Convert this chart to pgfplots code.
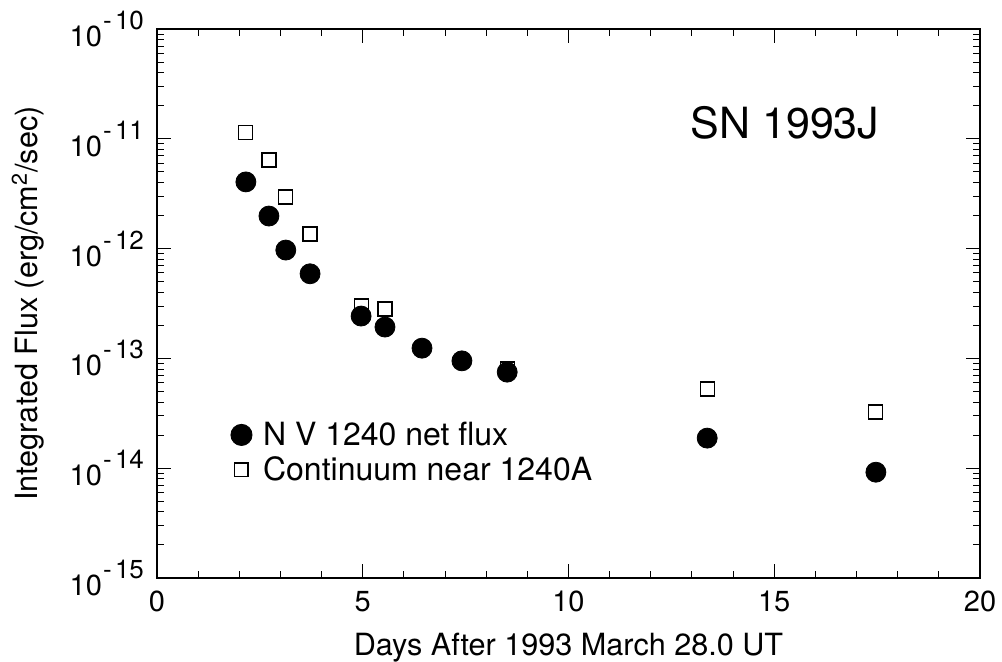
\documentclass[border=0pt]{standalone}
\usepackage{fontspec}
\setmainfont{TeX Gyre Heros}
\usepackage{pgfplots}
\pgfplotsset{compat=1.18}
\newcommand{\pw}[1]{10\kern0.6pt\raisebox{8.5pt}{\fontsize{13}{13}\selectfont -\kern1.6pt#1}}
\begin{document}
\begin{tikzpicture}
\useasboundingbox (-78.5pt,-42pt) rectangle (422.5pt,289pt);
\begin{axis}[
  at={(0,0)}, anchor=south west,
  scale only axis, width=411.5pt, height=274.5pt,
  xmin=0, xmax=20, ymode=log, ymin=1e-15, ymax=1e-10,
  xtick={0,5,10,15,20}, minor x tick num=4,
  ytick={1e-15,1e-14,1e-13,1e-12,1e-11,1e-10},
  yticklabels={\pw{15},\pw{14},\pw{13},\pw{12},\pw{11},\pw{10}},
  /pgf/number format/assume math mode=true,
  tick align=inside, major tick length=7pt, minor tick length=3.5pt,
  axis line style={line width=0.6pt},
  every tick/.style={black, line width=0.5pt},
  tick label style={font=\fontsize{14.5}{17}\selectfont},
  xticklabel style={yshift=-3pt},
  yticklabel style={xshift=-3pt},
  xlabel={Days After 1993 March 28.0 UT},
  ylabel={Integrated Flux (erg/cm\textsuperscript{2}/sec)},
  xlabel style={font=\fontsize{15.3}{18}\selectfont, yshift=-3.5pt},
  ylabel style={font=\fontsize{15.3}{18}\selectfont, at={(axis description cs:-0.157,0.5)}, anchor=center},
  legend style={draw=none, fill=none, font=\fontsize{16}{18}\selectfont,
    at={(axis description cs:0.082,0.30)}, anchor=north west,
    row sep=0pt, cells={anchor=west},
    /tikz/every odd column/.style={column sep=3.5pt}},
  legend cell align=left,
]
\addlegendimage{only marks, mark=*, mark size=5.3pt, black}
\addlegendentry{N V 1240 net flux}
\addlegendimage{only marks, mark=square, mark size=3.3pt, black, line width=0.6pt}
\addlegendentry{Continuum near 1240A}
\addplot[only marks, mark=square*, mark size=3.5pt, draw=black, fill=white, line width=0.6pt, forget plot] coordinates {
(2.16,1.15e-11) (2.72,6.4e-12) (3.13,2.95e-12) (3.72,1.36e-12)
(4.96,3.0e-13) (5.54,2.82e-13) (8.51,8.0e-14)
(13.37,5.26e-14) (17.47,3.25e-14)};
\addplot[only marks, mark=*, mark size=5pt, black, forget plot] coordinates {
(2.16,4.05e-12) (2.72,1.98e-12) (3.13,9.7e-13) (3.72,5.9e-13)
(4.96,2.43e-13) (5.54,1.93e-13) (6.44,1.24e-13) (7.41,9.5e-14)
(8.51,7.5e-14) (13.37,1.88e-14) (17.47,9.2e-15)};
\node[font=\fontsize{21.5}{24}\selectfont] at (axis description cs:0.763,0.83) {SN 1993J};
\end{axis}
\end{tikzpicture}
\end{document}
